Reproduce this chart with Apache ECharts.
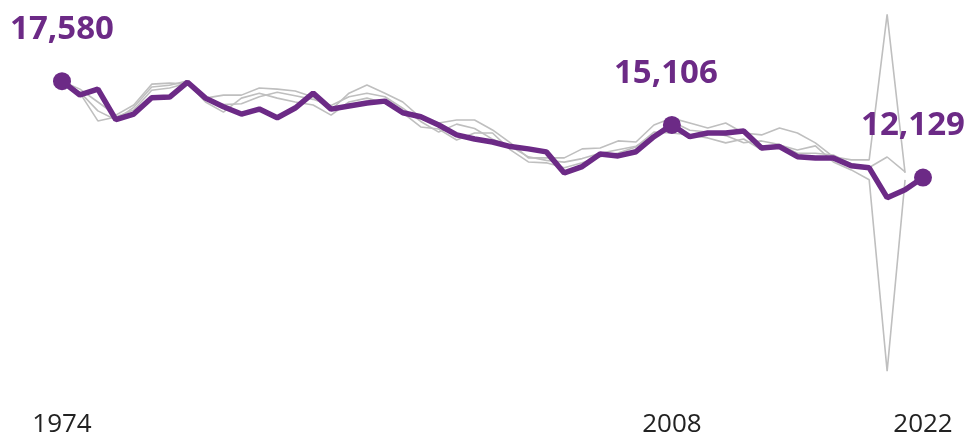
<!DOCTYPE html>
<html>
<head>
<meta charset="utf-8">
<script src="https://cdn.jsdelivr.net/npm/echarts@6/dist/echarts.min.js"></script>
<style>
  html, body { margin: 0; padding: 0; background: #fff; }
  #chart { width: 968px; height: 438px; }
</style>
</head>
<body>
<div id="chart"></div>
<script>
var years = [];
for (var y = 1974; y <= 2022; y++) { years.push(String(y)); }

// main series (purple)
var mainValues = [17580, 16800, 17130, 15400, 15720, 16640, 16680, 17520, 16620, 16130,
    15720, 16000, 15510, 16060, 16900, 16000, 16170, 16340, 16450, 15790,
    15570, 15100, 14540, 14310, 14140, 13880, 13750, 13580, 12390, 12750,
    13460, 13350, 13590, 14440, 15106, 14440, 14650, 14650, 14760, 13800,
    13880, 13310, 13240, 13240, 12790, 12680, 10990, 11440, 12129];

// background series (grey), 1974-2021
var greyA = [17580, 17130, 16400, 15660, 16230, 17410, 17470, 17410, 16620, 16790,
    16790, 17190, 17130, 17020, 16680, 15950, 16900, 17360, 16900, 16400,
    15500, 15210, 15380, 15380, 14820, 14090, 13240, 13240, 13240, 13750,
    13800, 14200, 14140, 15100, 15490, 15210, 14930, 15210, 14650, 14540,
    14930, 14650, 14090, 13300, 13130, 13130, 21360, 12390];
var greyB = [17580, 16900, 15330, 15550, 15950, 17070, 17190, 17470, 16400, 15830,
    16620, 16900, 16620, 16400, 16230, 15660, 16400, 16620, 16340, 15780,
    14990, 14870, 14250, 14650, 14650, 13690, 13010, 12960, 12680, 12960,
    13300, 13520, 13860, 14700, 14650, 14540, 14370, 14090, 14310, 13690,
    13970, 13690, 13920, 13010, 12560, 12000, 1180, 12000];
var greyC = [17580, 16960, 15900, 15400, 16100, 17250, 17350, 17600, 16500, 16250,
    16300, 16700, 16950, 16750, 16550, 16200, 16700, 16900, 16700, 16050,
    15300, 14700, 15150, 14900, 14300, 13900, 13300, 13100, 13000, 13200,
    13500, 13700, 13900, 14500, 15300, 14800, 14700, 14500, 14100, 14200,
    14000, 13500, 13500, 13400, 12900, 12700, 13290, 12450];

var labelYears = ['1974', '2008', '2022'];

var purple = '#6c2a86';
var grey = '#bfbfbf';

var myChart = echarts.init(document.getElementById('chart'));

var mainData = [];
for (var i = 0; i < mainValues.length; i++) {
    if (labelYears.indexOf(years[i]) >= 0) {
        mainData.push({
            value: mainValues[i],
            symbolSize: 18,
            label: {
                show: true,
                offset: years[i] == '2022' ? [-10, 0] : (years[i] == '2008' ? [-6, 0] : [0, 0])
            }
        });
    } else {
        mainData.push(mainValues[i]);
    }
}

function greySeries(data) {
    return {
        type: 'line',
        data: data,
        symbol: 'none',
        silent: true,
        lineStyle: { color: grey, width: 1.6 },
        z: 1
    };
}

var option = {
    animation: false,
    grid: { left: 62, right: 45, top: 3, bottom: 45 },
    xAxis: {
        type: 'category',
        boundaryGap: false,
        data: years,
        axisLine: { show: false },
        axisTick: { show: false },
        axisLabel: {
            interval: 0,
            margin: 20,
            fontFamily: 'Open Sans',
            fontSize: 26,
            color: '#222',
            formatter: function (v) { return labelYears.indexOf(v) >= 0 ? v : ''; }
        }
    },
    yAxis: {
        type: 'value',
        min: 0,
        max: 22000,
        show: false,
        splitLine: { show: false }
    },
    series: [
        greySeries(greyA),
        greySeries(greyB),
        greySeries(greyC),
        {
            type: 'line',
            data: mainData,
            symbol: 'circle',
            symbolSize: 0,
            showAllSymbol: true,
            itemStyle: { color: purple },
            lineStyle: { color: purple, width: 5.5 },
            label: {
                show: false,
                position: 'top',
                distance: 26,
                color: purple,
                fontFamily: 'Open Sans',
                fontWeight: 'bold',
                fontSize: 33,
                formatter: function (p) { return p.value.toLocaleString('en-US'); }
            },
            z: 3
        }
    ]
};

myChart.setOption(option);
</script>
</body>
</html>
